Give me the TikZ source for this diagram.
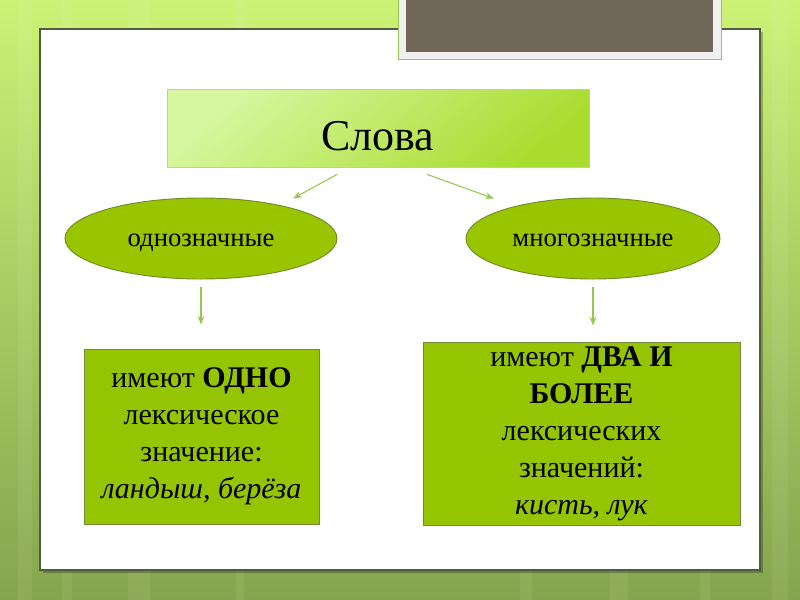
\documentclass[tikz,border=0pt]{standalone}
\usepackage{fontspec}
\setmainfont{Liberation Serif}
\usetikzlibrary{arrows.meta,shapes.geometric}

\definecolor{bgtop}{RGB}{204,242,118}
\definecolor{bgbot}{RGB}{134,164,78}
\definecolor{leaf}{RGB}{153,196,0}
\definecolor{boxgreen}{RGB}{148,197,0}
\definecolor{rimgreen}{RGB}{112,142,40}
\definecolor{arrowgreen}{RGB}{150,200,80}
\definecolor{slate}{RGB}{112,103,88}
\definecolor{panelrim}{RGB}{80,92,64}

\begin{document}
\begin{tikzpicture}[
      x=0.75pt, y=-0.75pt,
      >=Stealth,
      slovabox/.style={draw=arrowgreen!70, line width=0.6pt, shading=axis, top color={rgb,255:red,214;green,247;blue,160},
        bottom color={rgb,255:red,170;green,220;blue,48}, shading angle=40,
        minimum width=316.5pt, minimum height=58.5pt, inner sep=0pt,
        font=\fontsize{33}{40}\selectfont, text height=33pt, text depth=-6pt},
      kind/.style={ellipse, draw=rimgreen, line width=0.7pt, fill=leaf, inner sep=0pt,
        minimum height=60.75pt, font=\fontsize{20}{24}\selectfont, text height=12pt, text depth=-3.8pt},
      defbox/.style={draw=rimgreen!80!gray, line width=0.6pt, fill=boxgreen, align=center, inner sep=0pt,
        font=\fontsize{22.5}{27.75}\selectfont},
      arr/.style={->, arrowgreen, line width=0.8pt}
    ]
    \useasboundingbox (0,0) rectangle (800,600);
    % background, panel and title frame
    \fill[top color=bgtop, bottom color=bgbot] (0,0) rectangle (800,600);
    \foreach \sx/\sw in {18/14, 62/10, 128/22, 236/8, 520/12, 610/18, 700/10, 772/16}
      \fill[white, opacity=0.07] (\sx,0) rectangle ++(\sw,600);
    \fill[black, opacity=0.25] (43,32) rectangle (763,573);
    \draw[fill=white, draw=panelrim, line width=1.1pt] (40,29) rectangle (760,570);
    \draw[fill=white!94!black, draw=arrowgreen, line width=0.7pt] (398,-3) rectangle (721,59);
    \fill[slate] (406,-3) rectangle (713,52);

    \node[slovabox] (slova) at (378,128) {Слова};

    \node[kind, minimum width=204pt] (single) at (201,238.5) {однозначные};
    \node[kind, minimum width=190.5pt] (multi) at (593,238.5) {многозначные};

    \node[defbox, minimum width=176.25pt, minimum height=131.25pt] (singledef) at (201.5,436.5)
      {имеют \textbf{ОДНО}\\лексическое\\значение:\\\textit{ландыш, берёза}};
    \node[defbox, minimum width=237.75pt, minimum height=137.25pt] (multidef) at (581.5,433.5)
      {имеют \textbf{ДВА И}\\\textbf{БОЛЕЕ}\\лексических\\значений:\\\textit{кисть, лук}};

    % arrows do not touch the shapes
    \draw[arr] ([shift={(-41,7)}]slova.south) -- ([shift={(92,1)}]single.north);
    \draw[arr] ([shift={(49,7)}]slova.south) -- ([shift={(-99,1)}]multi.north);
    \draw[arr, shorten <=6pt, shorten >=18pt] (single.south) -- (single.south |- singledef.north);
    \draw[arr, shorten <=6pt, shorten >=12pt] (multi.south) -- (multi.south |- multidef.north);
  \end{tikzpicture}
\end{document}
